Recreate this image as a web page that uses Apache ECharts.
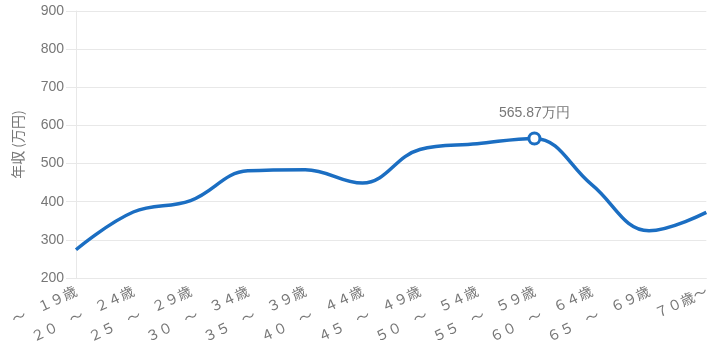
<!DOCTYPE html>
<html>
<head>
<meta charset="utf-8">
<script src="https://cdn.jsdelivr.net/npm/echarts@6/dist/echarts.min.js"></script>
<style>
html,body{margin:0;padding:0;background:#fff;}
#c{width:712px;height:346px;}
</style>
</head>
<body>
<div id="c"></div>
<script>
const categories = ["～　１９歳", "２０　～　２４歳", "２５　～　２９歳", "３０　～　３４歳", "３５　～　３９歳", "４０　～　４４歳", "４５　～　４９歳", "５０　～　５４歳", "５５　～　５９歳", "６０　～　６４歳", "６５　～　６９歳", "７０歳～"];
const income = [274, 373, 403, 481, 484, 449, 537, 552, 565.87, 445, 324, 372];
const peakIndex = 8;
const peakLabel = "565.87万円";
const yTicks = [200, 300, 400, 500, 600, 700, 800, 900];

const font = '"Noto Sans CJK JP", "Noto Sans", sans-serif';
const latin = '"Liberation Sans", Arial, sans-serif';
const chart = echarts.init(document.getElementById('c'), null, {renderer: 'canvas'});
chart.setOption({
  animation: false,
  grid: {left: 76, right: 5, top: 11, bottom: 68, containLabel: false},
  xAxis: {
    type: 'category',
    data: categories,
    boundaryGap: false,
    axisLine: {show: true, lineStyle: {color: '#e8e8e8'}},
    axisTick: {show: false},
    axisLabel: {rotate: 25, margin: 12, fontSize: 14, color: '#777', fontFamily: font, interval: 0}
  },
  yAxis: {
    type: 'value',
    min: yTicks[0],
    max: yTicks[yTicks.length - 1],
    interval: 100,
    name: '年収 (万円)',
    nameLocation: 'middle',
    nameGap: 51,
    nameTextStyle: {fontSize: 14, color: '#777', fontFamily: font},
    axisLine: {show: true, lineStyle: {color: '#e8e8e8'}},
    axisTick: {show: true, length: 10, lineStyle: {color: '#e8e8e8'}},
    axisLabel: {margin: 12, fontSize: 14, color: '#777', fontFamily: latin},
    splitLine: {show: true, lineStyle: {color: '#e8e8e8'}}
  },
  series: [{
    type: 'line',
    data: income,
    smooth: 0.4,
    showSymbol: false,
    lineStyle: {color: '#1b6ec2', width: 3.5},
    itemStyle: {color: '#1b6ec2'},
    markPoint: {
      symbol: 'circle',
      symbolSize: 11,
      itemStyle: {color: '#fff', borderColor: '#1b6ec2', borderWidth: 3},
      label: {show: true, position: 'top', distance: 11, formatter: peakLabel, color: '#777', fontSize: 14, fontFamily: latin},
      data: [{coord: [peakIndex, income[peakIndex]], value: income[peakIndex]}]
    }
  }]
});
</script>
</body>
</html>
